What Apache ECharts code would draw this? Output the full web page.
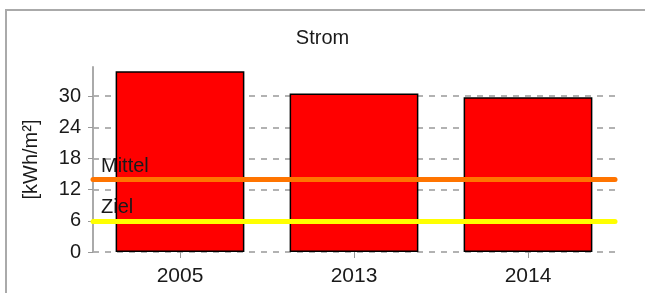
<!DOCTYPE html>
<html lang="de">
<head>
    <meta charset="UTF-8">
    <title>Strom</title>
    <script src="https://cdn.jsdelivr.net/npm/echarts@6/dist/echarts.min.js"></script>
    <style>
        html, body { margin: 0; padding: 0; background: #fff; }
        #chart { width: 645px; height: 293px; }
    </style>
</head>
<body>
<div id="chart"></div>
<script>
    // Daten
    var jahre = ['2005', '2013', '2014'];
    var verbrauch = [34.8, 30.5, 29.8];
    var mittelWert = 14;
    var zielWert = 6;
    var yTicks = [0, 6, 12, 18, 24, 30];

    var myChart = echarts.init(document.getElementById('chart'));
    var option = {
        animation: false,
        title: {
            text: 'Strom',
            left: 'center',
            top: 23,
            textStyle: { fontFamily: 'Arial', fontSize: 20, fontWeight: 'normal', color: '#1a1a1a' }
        },
        graphic: [{
            type: 'polyline',
            shape: { points: [[6, 300], [6, 10], [650, 10]] },
            style: { stroke: '#aaa', lineWidth: 2, fill: null }
        }],
        grid: { left: 93, right: 30, top: 67, bottom: 41 },
        xAxis: {
            type: 'category',
            data: jahre,
            axisLine: { show: false },
            axisTick: { show: true, alignWithLabel: true, length: 6, lineStyle: { color: '#999' } },
            axisLabel: { fontFamily: 'Arial', fontSize: 21, color: '#1a1a1a', margin: 14 }
        },
        yAxis: {
            type: 'value',
            min: 0,
            max: 35.6,
            interval: 6,
            name: '[kWh/m²]',
            nameLocation: 'middle',
            nameGap: 52,
            nameRotate: 90,
            nameTextStyle: { fontFamily: 'Arial', fontSize: 20, color: '#1a1a1a' },
            axisLine: { show: true, lineStyle: { color: '#aaa', width: 2 } },
            axisTick: { show: true, length: 5, customValues: yTicks, lineStyle: { color: '#999' } },
            axisLabel: {
                fontFamily: 'Arial', fontSize: 20, color: '#1a1a1a', margin: 12,
                customValues: yTicks
            },
            splitLine: {
                show: true,
                lineStyle: {
                    color: ['#999', '#999', '#999', '#999', '#999', '#999', 'rgba(0,0,0,0)'],
                    type: [6, 6],
                    width: 1.5
                }
            }
        },
        series: [{
            type: 'bar',
            data: verbrauch,
            barWidth: '74%',
            itemStyle: { color: '#ff0000', borderColor: '#000', borderWidth: 1.5 },
            markLine: {
                silent: true,
                symbol: 'none',
                data: [
                    { yAxis: mittelWert, name: 'Mittel', lineStyle: { color: '#ff7400' } },
                    { yAxis: zielWert, name: 'Ziel', lineStyle: { color: '#ffff00' } }
                ],
                lineStyle: { type: 'solid', width: 5, cap: 'round' },
                label: {
                    show: true,
                    position: 'insideStartTop',
                    formatter: '{b}',
                    fontFamily: 'Arial',
                    fontSize: 20,
                    color: '#1a1a1a',
                    distance: [8, 3]
                }
            }
        }]
    };
    myChart.setOption(option);
</script>
</body>
</html>
